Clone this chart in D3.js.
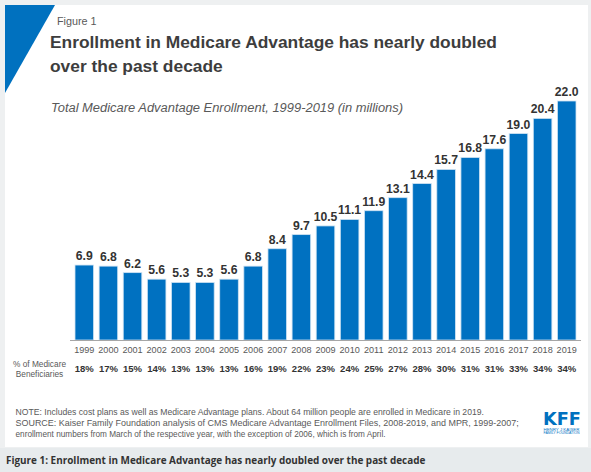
<!DOCTYPE html>
<html>
<head>
<meta charset="utf-8">
<script src="https://cdn.jsdelivr.net/npm/d3@7"></script>
<style>
  html, body { margin: 0; padding: 0; background: #eef0f1; }
  svg { display: block; }
</style>
</head>
<body>
<svg id="chart" width="591" height="472"></svg>
<script>
// ---- data ----
const years = ["1999","2000","2001","2002","2003","2004","2005","2006","2007","2008","2009","2010","2011","2012","2013","2014","2015","2016","2017","2018","2019"];
const enrollment = [6.9,6.8,6.2,5.6,5.3,5.3,5.6,6.8,8.4,9.7,10.5,11.1,11.9,13.1,14.4,15.7,16.8,17.6,19.0,20.4,22.0];
const shareOfBeneficiaries = ["18%","17%","15%","14%","13%","13%","13%","16%","19%","22%","23%","24%","25%","27%","28%","30%","31%","31%","33%","34%","34%"];
const figureLabel = "Figure 1";
const titleLines = ["Enrollment in Medicare Advantage has nearly doubled", "over the past decade"];
const subtitle = "Total Medicare Advantage Enrollment, 1999-2019 (in millions)";
const rowLabel = ["% of Medicare", "Beneficiaries"];
const noteLines = [
  "NOTE: Includes cost plans as well as Medicare Advantage plans. About 64 million people are enrolled in Medicare in 2019.",
  "SOURCE: Kaiser Family Foundation analysis of CMS Medicare Advantage Enrollment Files, 2008-2019, and MPR, 1999-2007;",
  "enrollment numbers from March of the respective year, with the exception of 2006, which is from April."
];
const logoLines = ["HENRY J KAISER", "FAMILY FOUNDATION"];
const caption = "Figure 1: Enrollment in Medicare Advantage has nearly doubled over the past decade";

const svg = d3.select("#chart");
const W = 591, H = 472;
const sans = "'Liberation Sans', Arial, sans-serif";

function fit(sel, target) {
  const node = sel.node();
  const fs = parseFloat(sel.attr("font-size"));
  const w = node.getComputedTextLength();
  if (w > 0) sel.attr("font-size", (fs * target / w).toFixed(2));
  return sel;
}

// backgrounds
svg.append("rect").attr("x", 0).attr("y", 0).attr("width", W).attr("height", H).attr("fill", "#eef0f1");
svg.append("rect").attr("x", 5).attr("y", 5).attr("width", 583).attr("height", 442).attr("fill", "#ffffff");
svg.append("rect").attr("x", 0).attr("y", 448).attr("width", W).attr("height", 24).attr("fill", "#e7ebed");

// blue triangle
svg.append("path").attr("d", "M5,5 L55,5 L5,93 Z").attr("fill", "#0071bf");

// header texts
svg.append("text").attr("x", 57).attr("y", 25).attr("font-family", sans).attr("font-size", 10.8)
  .attr("fill", "#595959").text(figureLabel);
const t1 = svg.append("text").attr("x", 50).attr("y", 48).attr("font-family", sans).attr("font-size", 19.5)
  .attr("font-weight", "bold").attr("fill", "#3d3d3d").text(titleLines[0]);
fit(t1, 447);
svg.append("text").attr("x", 50).attr("y", 72).attr("font-family", sans).attr("font-size", t1.attr("font-size"))
  .attr("font-weight", "bold").attr("fill", "#3d3d3d").text(titleLines[1]);
const st = svg.append("text").attr("x", 51).attr("y", 112).attr("font-family", sans).attr("font-size", 12)
  .attr("font-style", "italic").attr("fill", "#595959").text(subtitle);
fit(st, 352);

// scales
const x = d3.scaleBand().domain(years).range([75, 576]).paddingInner(0.23).paddingOuter(0);
const y = d3.scaleLinear().domain([0, 22]).range([340, 101]);

// bars
svg.append("g").selectAll("rect").data(years).join("rect")
  .attr("x", d => x(d))
  .attr("y", (d, i) => y(enrollment[i]))
  .attr("width", x.bandwidth())
  .attr("height", (d, i) => y(0) - y(enrollment[i]))
  .attr("fill", "#0071c1")
  .attr("stroke", "#cfe3f3").attr("stroke-width", 0.8);

// value labels
svg.append("g").selectAll("text").data(years).join("text")
  .attr("x", d => x(d) + x.bandwidth() / 2)
  .attr("y", (d, i) => y(enrollment[i]) - 5)
  .attr("text-anchor", "middle").attr("font-family", sans).attr("font-size", 12.2)
  .attr("font-weight", "bold").attr("fill", "#333333")
  .text((d, i) => enrollment[i].toFixed(1));

// x axis
const xAxis = d3.axisBottom(x).tickSize(0).tickPadding(7);
const gx = svg.append("g").attr("transform", `translate(0,${y(0)})`).call(xAxis);
gx.select(".domain").attr("stroke", "#a6a6a6").attr("stroke-width", 1).attr("d", "M70,0.5H581");
gx.selectAll(".tick text").attr("font-family", sans).attr("font-size", 9.1).attr("fill", "#595959");

// percentage row
svg.append("g").selectAll("text").data(years).join("text")
  .attr("x", d => x(d) + x.bandwidth() / 2)
  .attr("y", 372)
  .attr("text-anchor", "middle").attr("font-family", sans).attr("font-size", 9.5)
  .attr("font-weight", "bold").attr("fill", "#333333")
  .text((d, i) => shareOfBeneficiaries[i]);

svg.append("g").selectAll("text").data(rowLabel).join("text")
  .attr("x", 39.5).attr("y", (d, i) => 366.5 + i * 10.3)
  .attr("text-anchor", "middle").attr("font-family", sans).attr("font-size", 8.3)
  .attr("fill", "#595959").text(d => d);

// notes
const noteWidths = [469, 503, 370];
noteLines.forEach((line, i) => {
  const t = svg.append("text").attr("x", 15.5).attr("y", 415 + i * 10.8).attr("font-family", sans)
    .attr("font-size", 8.6).attr("fill", "#595959").text(line);
  fit(t, noteWidths[i]);
});

// KFF logo
svg.append("text").attr("x", 543).attr("y", 424.5).attr("font-family", "'DejaVu Sans', sans-serif")
  .attr("font-weight", "bold").attr("font-size", 17.5).attr("fill", "#0071bf")
  .attr("textLength", 38).attr("lengthAdjust", "spacingAndGlyphs").text("KFF");
svg.append("g").selectAll("text").data(logoLines).join("text")
  .attr("x", 543.5).attr("y", (d, i) => 431.3 + i * 3)
  .attr("font-family", sans).attr("font-size", 2.6)
  .attr("fill", "#0071bf").attr("textLength", 36).attr("lengthAdjust", "spacingAndGlyphs")
  .text(d => d);

// caption band
const cap = svg.append("text").attr("x", 6).attr("y", 464).attr("font-family", "'Open Sans', sans-serif")
  .attr("font-weight", "bold").attr("font-size", 11).attr("fill", "#333333").text(caption);
fit(cap, 420);
</script>
</body>
</html>
